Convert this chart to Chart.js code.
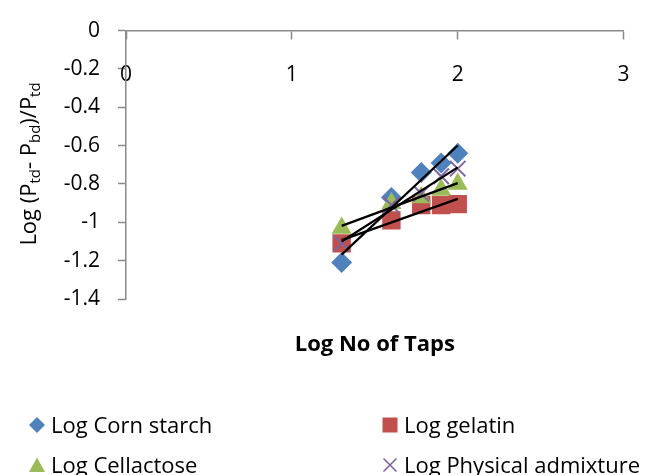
<!DOCTYPE html>
<html>
<head>
<meta charset="utf-8">
<script src="https://cdn.jsdelivr.net/npm/chart.js@4/dist/chart.umd.min.js"></script>
<style>
html,body{margin:0;padding:0;background:#fff;}
#wrap{position:relative;width:653px;height:475px;overflow:hidden;font-family:"Open Sans",sans-serif;color:#000;}
#c{position:absolute;left:0;top:0;}
#ytitle{position:absolute;left:27px;top:164px;transform:translate(-50%,-50%) rotate(-90deg);white-space:nowrap;font-size:22px;line-height:1;}
#ytitle sub{font-size:0.68em;vertical-align:-0.28em;line-height:0;}
.lm{position:absolute;}
.lt{position:absolute;font-size:22px;line-height:28px;white-space:nowrap;}
</style>
</head>
<body>
<div id="wrap">
  <canvas id="c" width="653" height="475"></canvas>
  <div id="ytitle">Log (P<sub>td</sub>- P<sub>bd</sub>)/P<sub>td</sub></div>
  <div id="legend"></div>
</div>
<script>
// ---- data ----
const logTaps       = [1.30, 1.60, 1.78, 1.90, 2.00];
const cornStarch    = [-1.21, -0.87, -0.74, -0.69, -0.64];
const gelatin       = [-1.11, -0.99, -0.91, -0.91, -0.905];
const cellactose    = [-1.03, -0.90, -0.87, -0.83, -0.80];
const physicalAdmix = [-1.11, -0.91, -0.85, -0.76, -0.72];
const seriesNames   = ['Log Corn starch', 'Log gelatin', 'Log Cellactose', 'Log Physical admixture'];
const xTickValues   = [0, 1, 2, 3];
const xTickLabels   = ['0', '1', '2', '3'];
const yTickValues   = [-1.4, -1.2, -1, -0.8, -0.6, -0.4, -0.2, 0];
const yTickLabels   = ['-1.4', '-1.2', '-1', '-0.8', '-0.6', '-0.4', '-0.2', '0'];
const xTitle        = 'Log No of Taps';

// ---- styles ----
const seriesValues = [cornStarch, gelatin, cellactose, physicalAdmix];
const styles = [
  {color:'#4F81BD', point:'rectRot',  radius:10.5, border:0},
  {color:'#C0504D', point:'rect',     radius:13,   border:0},
  {color:'#9BBB59', point:'triangle', radius:11.5, border:0},
  {color:'#8064A2', point:'crossRot', radius:11,   border:2}
];
const axisColor = '#8a8a8a';
const FONT = '"Open Sans", sans-serif';

function linFit(xs, ys) {
  const n = xs.length;
  const mx = xs.reduce((a,b)=>a+b,0)/n, my = ys.reduce((a,b)=>a+b,0)/n;
  let sxy = 0, sxx = 0;
  for (let i=0;i<n;i++){ sxy += (xs[i]-mx)*(ys[i]-my); sxx += (xs[i]-mx)*(xs[i]-mx); }
  const b = sxy/sxx, a = my - b*mx;
  const x0 = Math.min(...xs), x1 = Math.max(...xs);
  return [{x:x0, y:a+b*x0}, {x:x1, y:a+b*x1}];
}

const datasets = [];
seriesValues.forEach((vals, i) => {
  datasets.push({
    label: seriesNames[i] + ' trend',
    data: linFit(logTaps, vals),
    showLine: true, borderColor:'#000', borderWidth:2.2,
    pointRadius:0, pointHoverRadius:0, fill:false,
    xAxisID:'x', yAxisID:'y', order:0
  });
});
seriesValues.forEach((vals, i) => {
  const s = styles[i];
  datasets.push({
    label: seriesNames[i],
    data: logTaps.map((x, k) => ({x, y: vals[k]})),
    showLine:false,
    pointStyle: s.point, pointRadius: s.radius, pointHoverRadius: s.radius,
    backgroundColor: s.color,
    borderColor: s.color, borderWidth: s.border,
    xAxisID:'x', yAxisID:'y', order: 4 - i + 1
  });
});

Chart.defaults.font.family = FONT;
Chart.defaults.color = '#000';

new Chart(document.getElementById('c'), {
  type: 'scatter',
  data: { datasets },
  options: {
    responsive:false, animation:false, devicePixelRatio:1,
    layout: { padding: { top:26, right:29, bottom:116.8, left:0 } },
    plugins: { legend:{display:false}, tooltip:{enabled:false} },
    scales: {
      x: {
        type:'linear', axis:'x', position:{y:0}, min:0, max:3,
        afterBuildTicks: s => { s.ticks = xTickValues.map(v => ({value:v})); },
        afterFit: s => { s.height = 0; },
        grid: { drawOnChartArea:false, drawTicks:true, tickLength:8, tickColor:axisColor, tickWidth:1.5 },
        border: { display:true, color:axisColor, width:1.5 },
        ticks: { padding:23.4, font:{size:21}, color:'#000', maxRotation:0, autoSkip:false,
                 callback: (v, i) => xTickLabels[i] }
      },
      x2: {
        type:'linear', axis:'x', position:'bottom', min:0, max:1, display:true,
        grid: { display:false, drawTicks:false },
        border: { display:false },
        ticks: { display:false },
        title: { display:true, text:xTitle, color:'#000',
                 font:{size:22, weight:'bold', family:FONT}, padding:{top:32.8, bottom:0} }
      },
      y: {
        type:'linear', position:'left', min:-1.4, max:0,
        afterBuildTicks: s => { s.ticks = yTickValues.map(v => ({value:v})); },
        afterFit: s => { s.width = 126; },
        grid: { drawOnChartArea:false, drawTicks:true, tickLength:8, tickColor:axisColor, tickWidth:1.5 },
        border: { display:true, color:axisColor, width:1.5 },
        ticks: { padding:18, font:{size:21}, color:'#000', autoSkip:false,
                 callback: (v, i) => yTickLabels[i] }
      }
    }
  }
});

// ---- HTML legend (two columns) ----
function markerSVG(i) {
  const c = styles[i].color;
  const shapes = [
    `<polygon points="8,0 16,8 8,16 0,8" fill="${c}"/>`,
    `<rect x="0.5" y="0.5" width="15" height="15" fill="${c}"/>`,
    `<polygon points="8,0.5 16,15 0,15" fill="${c}"/>`,
    `<path d="M1.5,1.5 L14.5,14.5 M14.5,1.5 L1.5,14.5" stroke="${c}" stroke-width="1.6" fill="none"/>`
  ];
  return `<svg width="16" height="16" viewBox="0 0 16 16">${shapes[i]}</svg>`;
}
const legendPos = [
  {mx:37, tx:51, cy:424}, {mx:390, tx:404, cy:424},
  {mx:37, tx:51, cy:464}, {mx:390, tx:404, cy:464}
];
const leg = document.getElementById('legend');
seriesNames.forEach((name, i) => {
  const p = legendPos[i];
  const m = document.createElement('div');
  m.className = 'lm';
  m.style.left = (p.mx - 8) + 'px'; m.style.top = (p.cy - 8) + 'px';
  m.innerHTML = markerSVG(i);
  leg.appendChild(m);
  const t = document.createElement('div');
  t.className = 'lt';
  t.style.left = p.tx + 'px'; t.style.top = (p.cy - 14) + 'px';
  t.textContent = name;
  leg.appendChild(t);
});
</script>
</body>
</html>
